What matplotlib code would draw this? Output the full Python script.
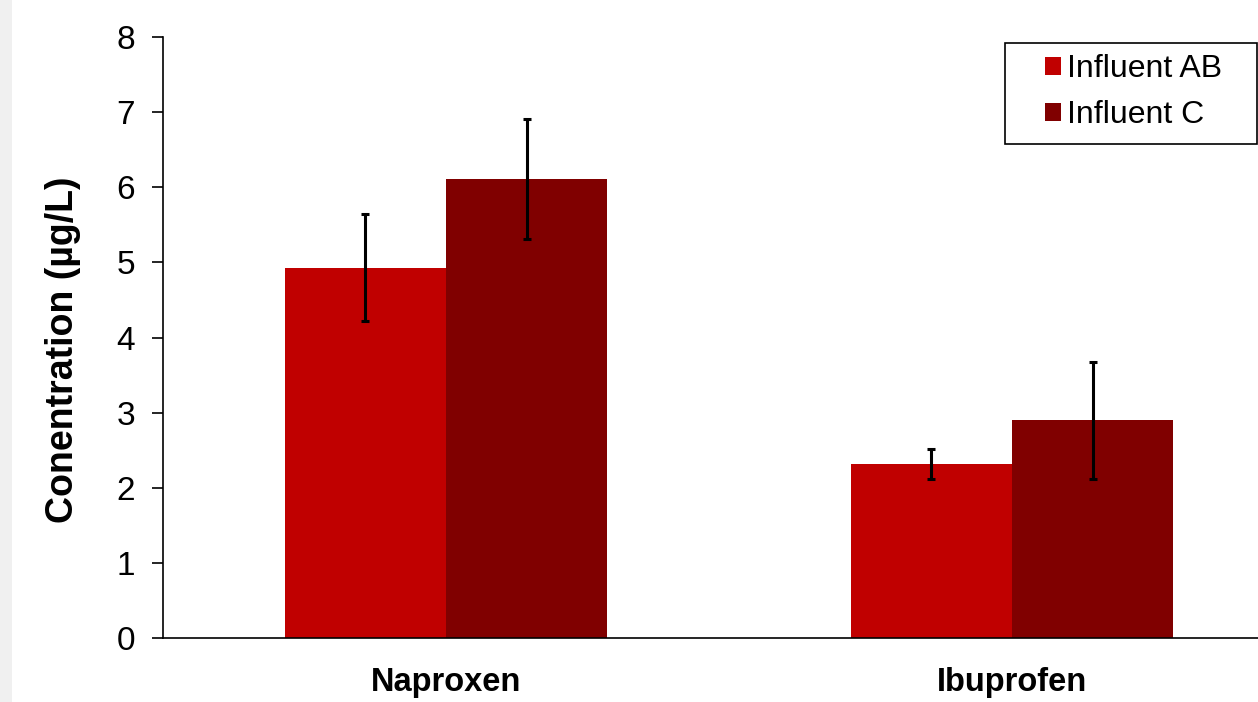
import matplotlib.pyplot as plt
import numpy as np
from matplotlib.patches import Rectangle

plt.rcParams['font.family'] = ['Liberation Sans', 'DejaVu Sans']

drugs = ['Naproxen', 'Ibuprofen']
series = ['Influent AB', 'Influent C']
influent_ab = [4.93, 2.32]
influent_ab_err = [0.71, 0.20]
influent_c = [6.11, 2.90]
influent_c_err = [0.80, 0.78]
colors = ['#C00000', '#800000']

W, H = 1258, 702
fig = plt.figure(figsize=(W / 100, H / 100), dpi=100)
# light grey strip at the left edge
fig.patches.append(Rectangle((0, 0), 12 / W, 1, transform=fig.transFigure,
                             facecolor='#f0f0f0', edgecolor='none'))
ax = fig.add_axes([163 / W, 64 / H, 1 - 163 / W, (638 - 37) / H])

x = np.arange(len(drugs))
w = 0.285
ekw = dict(ecolor='black', elinewidth=2.2, capsize=3, capthick=2.2)
ax.bar(x - w / 2, influent_ab, w, color=colors[0], label=series[0],
       yerr=influent_ab_err, error_kw=ekw)
ax.bar(x + w / 2, influent_c, w, color=colors[1], label=series[1],
       yerr=influent_c_err, error_kw=ekw)

ax.set_xlim(-0.5, 1 + 246 / 566)
ax.set_ylim(0, 8)
ax.set_yticks(range(0, 9))
ax.tick_params(axis='y', labelsize=24, length=8, width=1.2, pad=12)
ax.set_xticks(x)
ax.set_xticklabels(drugs, fontsize=23.5, fontweight='bold')
ax.tick_params(axis='x', length=0, pad=21)
for s in ['top', 'right']:
    ax.spines[s].set_visible(False)
ax.spines['left'].set_linewidth(1.2)
ax.spines['bottom'].set_linewidth(1.2)
ax.set_ylabel('Conentration (µg/L)', fontsize=27, fontweight='bold')
ax.yaxis.set_label_coords(-0.075, 0.48)

# legend box drawn separately so the entries can sit off-centre like the original
box = Rectangle((1005 / W, 1 - 144 / H), 252 / W, 101 / H,
                transform=fig.transFigure, facecolor='white',
                edgecolor='black', linewidth=1.2, zorder=5, clip_on=False)
ax.add_patch(box)
leg = ax.legend(loc='upper left', bbox_to_anchor=(1045 / W, 1 - 54 / H),
                bbox_transform=fig.transFigure, fontsize=23, frameon=False,
                handlelength=0.5, handleheight=0.5, handletextpad=0.2,
                borderpad=0.0, labelspacing=0.5, borderaxespad=0)
leg.set_zorder(6)

fig.savefig('out.png', dpi=100)
